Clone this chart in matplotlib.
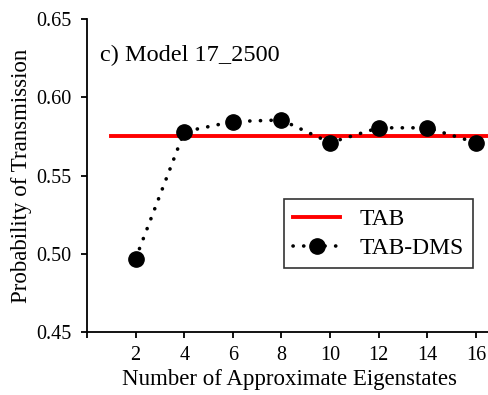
import matplotlib.pyplot as plt
import numpy as np

plt.rcParams['font.family'] = ['Liberation Serif', 'DejaVu Serif']

# data
eigenstates = [2, 4, 6, 8, 10, 12, 14, 16]
tabDms = [0.497, 0.578, 0.5845, 0.5855, 0.571, 0.5805, 0.5805, 0.571]
tabValue = 0.5755
tabRange = [1, 17]

fig = plt.figure(figsize=(4.89, 3.95), dpi=100)
ax = fig.add_axes([0.178, 0.159, 0.83, 0.793])

ax.plot(tabRange, [tabValue, tabValue], color="red", lw=2.8, label="TAB")
ax.plot(eigenstates, tabDms, color="black", marker="o", markersize=11,
        linestyle=(0, (0.05, 2.9)), lw=2.6, dash_capstyle="round", label="TAB-DMS")

ax.set_xlim(0, 16.7)
ax.set_ylim(0.45, 0.65)
ax.set_xticks(np.arange(0, 17, 2))
ax.set_xticklabels([""] + [str(v) for v in range(2, 17, 2)])
ax.set_yticks([0.45, 0.50, 0.55, 0.60, 0.65])
ax.set_yticklabels(["0.45", "0.50", "0.55", "0.60", "0.65"])
ax.tick_params(labelsize=14.5, width=1.3, length=4)
ax.tick_params(axis="x", pad=6)
ax.tick_params(axis="y", pad=7.5)
ax.spines["top"].set_visible(False)
ax.spines["right"].set_visible(False)
ax.spines["left"].set_linewidth(1.3)
ax.spines["bottom"].set_linewidth(1.3)

ax.set_xlabel("Number of Approximate Eigenstates", fontsize=16.5, labelpad=3)
ax.set_ylabel("Probability of Transmission", fontsize=16.5, labelpad=3)
ax.text(0.032, 0.885, "c) Model 17_2500", transform=ax.transAxes, fontsize=17.5, va="center")

leg = ax.legend(loc="lower right", bbox_to_anchor=(0.951, 0.204), borderaxespad=0,
                fontsize=17, frameon=True, fancybox=False, edgecolor="black",
                handlelength=2.0, borderpad=0.4, labelspacing=0.3)
leg.get_frame().set_linewidth(1.2)

fig.savefig("out.png", dpi=100)
